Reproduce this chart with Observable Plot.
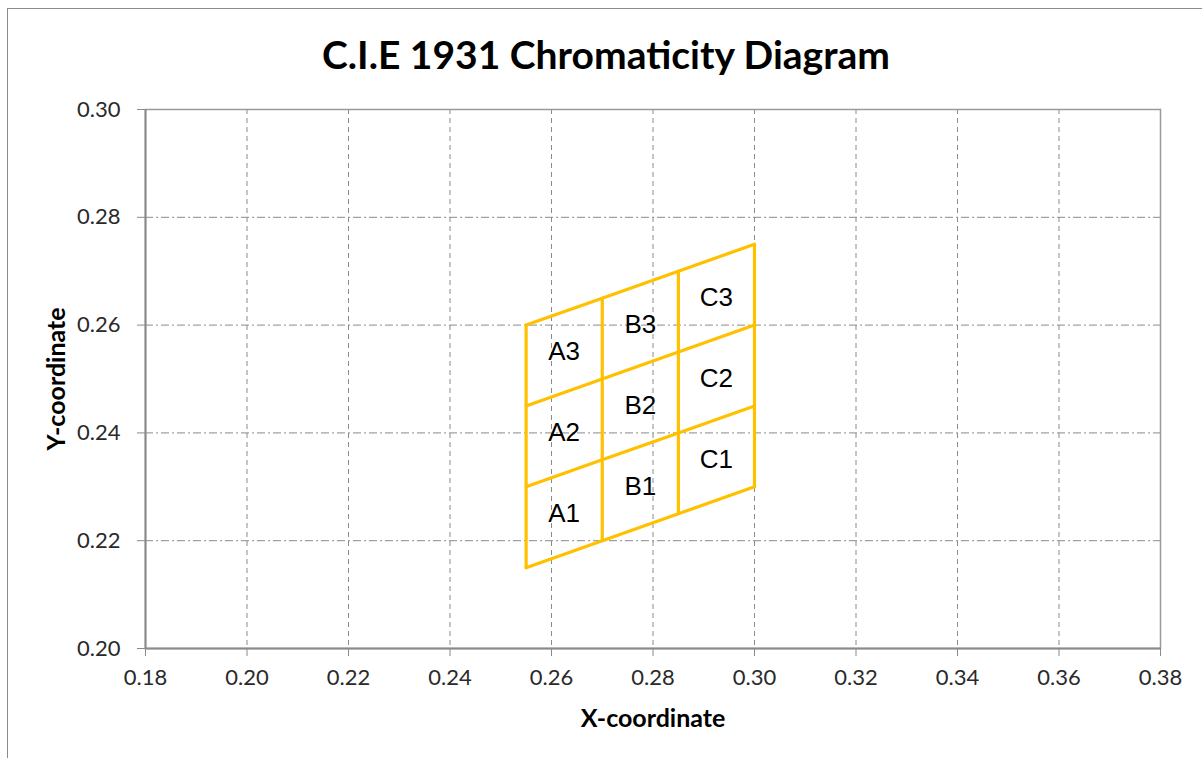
<!DOCTYPE html>
<html>
<head>
<meta charset="utf-8">
<script src="https://cdn.jsdelivr.net/npm/d3@7"></script>
<script src="https://cdn.jsdelivr.net/npm/@observablehq/plot@0.6"></script>
<style>
  html, body { margin: 0; padding: 0; background: #fff; }
  #wrap { position: relative; width: 1202px; height: 758px; overflow: hidden; }
  #border { position: absolute; left: 7px; top: 8px; width: 1300px; height: 900px; border-left: 1.5px solid #8c8c8c; border-top: 1.5px solid #8c8c8c; }
  #title { position: absolute; left: 0; top: 31px; width: 1212px; text-align: center; font-family: Lato, sans-serif; font-weight: bold; font-size: 39px; color: #000; }
  #chart { position: absolute; left: 0; top: 0; }
</style>
</head>
<body>
<div id="wrap">
  <div id="border"></div>
  <div id="chart"></div>
  <div id="title">C.I.E 1931 Chromaticity Diagram</div>
</div>
<script>
// Cell boundary x positions
const xEdges = [0.255, 0.27, 0.285, 0.30];
// Four sloping boundaries (bottom to top): y at each x edge
const boundaryY = [
  [0.215, 0.220, 0.225, 0.230],
  [0.230, 0.235, 0.240, 0.245],
  [0.245, 0.250, 0.255, 0.260],
  [0.260, 0.265, 0.270, 0.275]
];
// Cell labels
const cellNames = ["A1", "A2", "A3", "B1", "B2", "B3", "C1", "C2", "C3"];
const cellX = [0.2625, 0.2625, 0.2625, 0.2775, 0.2775, 0.2775, 0.2925, 0.2925, 0.2925];
const cellY = [0.2250, 0.2400, 0.2550, 0.2300, 0.2450, 0.2600, 0.2350, 0.2500, 0.2650];
// Axis ticks
const xTicks = [0.18, 0.20, 0.22, 0.24, 0.26, 0.28, 0.30, 0.32, 0.34, 0.36, 0.38];
const yTicks = [0.20, 0.22, 0.24, 0.26, 0.28, 0.30];

const hLines = [];
boundaryY.forEach((row, r) => row.forEach((y, i) => hLines.push({line: "h" + r, x: xEdges[i], y})));
const vLines = [];
xEdges.forEach((x, i) => {
  vLines.push({line: "v" + i, x, y: boundaryY[0][i]});
  vLines.push({line: "v" + i, x, y: boundaryY[boundaryY.length - 1][i]});
});
const labels = cellNames.map((n, i) => ({name: n, x: cellX[i], y: cellY[i]}));

const gold = "#FFC000";
const chart = Plot.plot({
  width: 1202,
  height: 758,
  marginLeft: 145,
  marginRight: 42,
  marginTop: 109,
  marginBottom: 110,
  style: {fontFamily: "Lato, sans-serif", background: "transparent"},
  x: {domain: [0.18, 0.38]},
  y: {domain: [0.20, 0.30]},
  marks: [
    Plot.gridX(xTicks.slice(1, -1), {stroke: "#8a8a8a", strokeOpacity: 1, strokeWidth: 1, strokeDasharray: "5,4"}),
    Plot.gridY(yTicks.slice(1, -1), {stroke: "#8a8a8a", strokeOpacity: 1, strokeWidth: 1, strokeDasharray: "8,3,2,3"}),
    Plot.frame({stroke: "#9a9a9a", strokeWidth: 1.5}),
    Plot.ruleX([0.18], {stroke: "#8a8a8a", strokeWidth: 2}),
    Plot.ruleY([0.20], {stroke: "#8a8a8a", strokeWidth: 2}),
    Plot.axisX(xTicks, {
      tickFormat: d3.format(".2f"), tickSize: 8, tickPadding: 13, fontSize: 22, stroke: "#8a8a8a", color: "#2a2a2a",
      label: "X-coordinate", labelAnchor: "center", labelArrow: "none", labelOffset: 78
    }),
    Plot.axisY(yTicks, {
      tickFormat: d3.format(".2f"), tickSize: 8, tickPadding: 17, fontSize: 22, stroke: "#8a8a8a", color: "#2a2a2a",
      label: "Y-coordinate", labelAnchor: "center", labelArrow: "none", labelOffset: 98
    }),
    Plot.line(hLines, {x: "x", y: "y", z: "line", stroke: gold, strokeWidth: 3.2}),
    Plot.line(vLines, {x: "x", y: "y", z: "line", stroke: gold, strokeWidth: 3.2}),
    Plot.text(labels, {x: "x", y: "y", text: "name", fontSize: 26, fill: "#000", fontFamily: "Liberation Sans, Arial, sans-serif"})
  ]
});
// Style axis labels bold
chart.querySelectorAll("g[aria-label='x-axis label'] text, g[aria-label='y-axis label'] text").forEach(t => {
  t.setAttribute("font-weight", "bold");
  t.setAttribute("font-size", "25");
  t.setAttribute("fill", "#000");
});
document.getElementById("chart").appendChild(chart);
</script>
</body>
</html>
